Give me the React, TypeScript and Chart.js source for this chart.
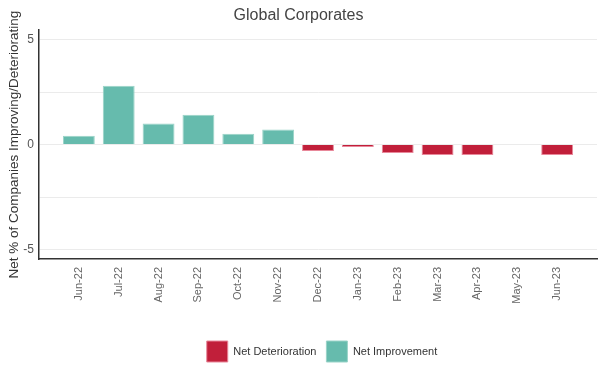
import React, { useEffect, useRef } from "react";
import { Chart, registerables } from "chart.js";

Chart.register(...registerables);

const categories = ["Jun-22", "Jul-22", "Aug-22", "Sep-22", "Oct-22", "Nov-22", "Dec-22", "Jan-23", "Feb-23", "Mar-23", "Apr-23", "May-23", "Jun-23"];
const netValues: (number | null)[] = [0.42, 2.8, 1.0, 1.42, 0.52, 0.72, -0.3, -0.12, -0.4, -0.5, -0.5, null, -0.5];
const yTickValues = [-5, -2.5, 0, 2.5, 5];
const seriesNames = ["Net Deterioration", "Net Improvement"];

const FONT = "'Liberation Sans', Arial, sans-serif";

const legendShift = {
  id: "legendShift",
  afterLayout(chart: any) {
    if (chart.legend) {
      chart.legend.left += 47;
    }
  },
};

export default function App() {
  const ref = useRef<HTMLCanvasElement>(null);
  useEffect(() => {
    if (!ref.current) return;
    const deterioration = netValues.map((v, i) => ({ x: i, y: v !== null && v < 0 ? v : null }));
    const improvement = netValues.map((v, i) => ({ x: i, y: v !== null && v > 0 ? v : null }));
    const chart = new Chart(ref.current, {
      type: "bar",
      data: {
        datasets: [
          {
            label: seriesNames[0],
            data: deterioration as any,
            backgroundColor: "#C11F3A",
            borderColor: "#E8889A",
            borderWidth: 1,
            grouped: false,
            barPercentage: 0.8,
            categoryPercentage: 1,
          } as any,
          {
            label: seriesNames[1],
            data: improvement as any,
            backgroundColor: "#66BBAD",
            borderColor: "#9AD3C8",
            borderWidth: 1,
            grouped: false,
            barPercentage: 0.8,
            categoryPercentage: 1,
          } as any,
        ],
      },
      plugins: [legendShift],
      options: {
        responsive: false,
        animation: false,
        layout: { padding: { left: 0, right: 8, top: 0, bottom: 6 } },
        plugins: {
          title: {
            display: true,
            text: "Global Corporates",
            color: "#444",
            font: { family: FONT, size: 16, weight: "normal" },
            padding: { top: 6, bottom: 5 },
          },
          legend: {
            position: "bottom",
            labels: {
              boxWidth: 21,
              boxHeight: 21,
              color: "#333",
              padding: 10,
              font: { family: FONT, size: 11 },
            },
          },
          tooltip: { enabled: false },
        },
        scales: {
          x: {
            type: "linear",
            offset: false,
            min: -1,
            max: 13,
            grid: { display: false, drawTicks: false, offset: false },
            border: { display: true, color: "#333", width: 1.5 },
            ticks: {
              stepSize: 1,
              includeBounds: false,
              autoSkip: false,
              minRotation: 90,
              maxRotation: 90,
              padding: 8,
              color: "#666",
              font: { family: FONT, size: 11 },
              callback: (v: any) => {
                const i = Number(v);
                return Number.isInteger(i) && i >= 0 && i < categories.length ? categories[i] : "";
              },
            },
            afterFit: (s: any) => {
              s.height = 72;
              s.paddingLeft = 0;
              s.paddingRight = 0;
            },
          },
          y: {
            min: -5.45,
            max: 5.45,
            grid: { color: "#ebebeb", drawTicks: false, lineWidth: 1 },
            border: { display: true, color: "#333", width: 1.5 },
            afterBuildTicks: (s: any) => {
              s.ticks = yTickValues.map((v) => ({ value: v }));
            },
            ticks: {
              padding: 5,
              color: "#555",
              font: { family: FONT, size: 12 },
              callback: (v: any) => (Number(v) % 5 === 0 ? String(v) : ""),
            },
            title: {
              display: true,
              text: "Net % of Companies Improving/Deteriorating",
              color: "#333",
              font: { family: FONT, size: 13.5 },
              padding: { top: 6, bottom: 0 },
            },
            afterFit: (s: any) => {
              s.width = 39;
              s.paddingTop = 0;
              s.paddingBottom = 0;
            },
          },
        },
      } as any,
    });
    return () => chart.destroy();
  }, []);
  return (
    <div style={{ position: "fixed", left: 0, top: 0, width: 605, height: 378, background: "#fff" }}>
      <canvas ref={ref} width={605} height={378} />
    </div>
  );
}
